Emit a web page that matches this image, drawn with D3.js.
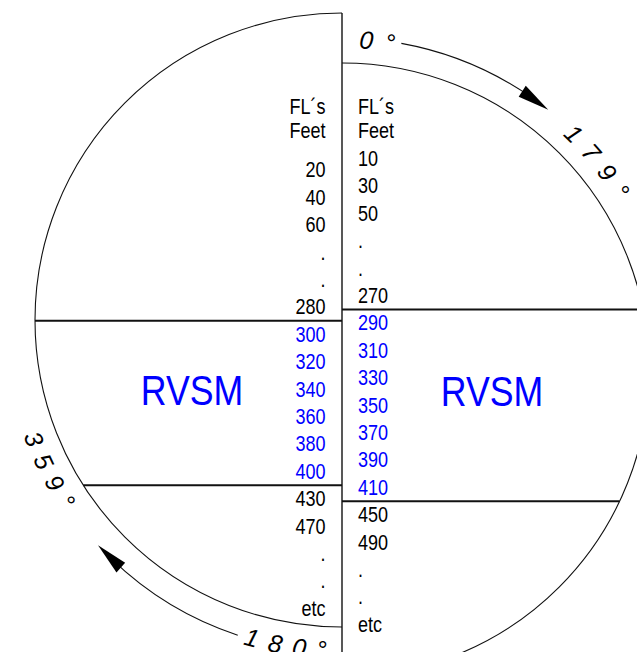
<!DOCTYPE html>
<html><head><meta charset="utf-8">
<script src="https://cdn.jsdelivr.net/npm/d3@7"></script>
<style>html,body{margin:0;padding:0;background:#fff;}svg{display:block;}</style>
</head><body>
<svg id="c" width="637" height="652"></svg>
<script>
// ---------- data ----------
const leftLevels  = ["20","40","60",".",".","280","300","320","340","360","380","400","430","470",".",".","etc"];
const rightLevels = ["10","30","50",".",".","270","290","310","330","350","370","390","410","450","490",".",".","etc"];
const headerLabels = ["FL´s","Feet"];
const rvsmLeft  = [300, 400];
const rvsmRight = [290, 410];
const bandLabel = "RVSM";
const degreeTexts  = ["0 °", "1 7 9 °", "3 5 9 °", "1 8 0 °"];
const degreeSides  = ["east", "east", "west", "west"];
const degreeStarts = [3, 43.2, 250, 197];          // heading (deg) where each label starts
const arrowSides = ["east", "west"];
const arrowFrom  = [10.3, 198.3];                  // heading (deg)
const arrowTo    = [38.4, 227.3];

// ---------- layout ----------
const W = 637, H = 652, cx = 342, R = 307;
const cy = {west: 320, east: 370};
const svg = d3.select("#c");
const BLUE = "#0000ff";
const FONT = "'Liberation Sans', Arial, Helvetica, sans-serif";
const SX = 0.82;   // horizontal condensing of the column text

const ang = d3.scaleLinear().domain([0, 360]).range([0, 2 * Math.PI]);
function polar(side, r, deg) {
  const a = ang(deg);
  return [cx + r * Math.sin(a), cy[side] - r * Math.cos(a)];
}
const yLeft  = d3.scaleLinear().domain([0, leftLevels.length - 1]).range([177.3, 615.7]);
const yRight = d3.scaleLinear().domain([0, rightLevels.length - 1]).range([166, 631.8]);
const yHeader = d3.scaleLinear().domain([0, 1]).range([114, 137.5]);

// semicircles
function semi(side) {
  const p = d3.path();
  const c = cy[side];
  p.moveTo(cx, c - R);
  p.arc(cx, c, R, -Math.PI / 2, Math.PI / 2, side === "west");
  return p.toString();
}
["west", "east"].forEach(s => {
  svg.append("path").attr("d", semi(s)).attr("fill", "none")
    .attr("stroke", "#111").attr("stroke-width", 1.1);
});

// centre vertical line
svg.append("line").attr("x1", cx).attr("x2", cx).attr("y1", cy.west - R).attr("y2", H)
  .attr("stroke", "#111").attr("stroke-width", 1.4);

// band boundaries
function isRvsm(lbl, rng) { const v = +lbl; return !isNaN(v) && v >= rng[0] && v <= rng[1]; }
function boundaries(levels, rng, yScale) {
  const lo = levels.findIndex(d => isRvsm(d, rng));
  let hi = -1; levels.forEach((d, i) => { if (isRvsm(d, rng)) hi = i; });
  return [yScale(lo - 1) + 6.5, yScale(hi) + 6.5];
}
function xOnCircle(side, y) {
  const dy = y - cy[side];
  const dx = Math.sqrt(Math.max(0, R * R - dy * dy));
  return side === "west" ? cx - dx : cx + dx;
}
const bL = boundaries(leftLevels, rvsmLeft, yLeft);
const bR = boundaries(rightLevels, rvsmRight, yRight);
bL.forEach(y => svg.append("line").attr("x1", xOnCircle("west", y)).attr("x2", cx)
  .attr("y1", y).attr("y2", y).attr("stroke", "#111").attr("stroke-width", 2));
bR.forEach(y => svg.append("line").attr("x1", cx).attr("x2", xOnCircle("east", y))
  .attr("y1", y).attr("y2", y).attr("stroke", "#111").attr("stroke-width", 2));

// text helper
function txt(x, y, s, anchor, size, color, sx) {
  svg.append("text").attr("transform", `translate(${x},${y}) scale(${sx},1)`)
    .attr("text-anchor", anchor).attr("font-family", FONT).attr("font-size", size)
    .attr("fill", color).text(s);
}
const xL = 325.5, xR = 358;
headerLabels.forEach((h, i) => {
  txt(xL, yHeader(i), h, "end", 22, "#000", SX);
  txt(xR, yHeader(i), h, "start", 22, "#000", SX);
});
leftLevels.forEach((d, i) => txt(xL, yLeft(i), d, "end", 22, isRvsm(d, rvsmLeft) ? BLUE : "#000", SX));
rightLevels.forEach((d, i) => txt(xR, yRight(i), d, "start", 22, isRvsm(d, rvsmRight) ? BLUE : "#000", SX));

// RVSM labels, centred in each band
txt(192, 405, bandLabel, "middle", 42, BLUE, 0.85);
txt(492, 406, bandLabel, "middle", 42, BLUE, 0.85);

// degree labels along arcs
const defs = svg.append("defs");
degreeTexts.forEach((t, i) => {
  const side = degreeSides[i], a0 = degreeStarts[i];
  const r = side === "east" ? 322 : 339;
  const a1 = side === "east" ? a0 + 90 : a0 - 90;
  const p0 = polar(side, r, a0), p1 = polar(side, r, a1);
  const id = "dp" + i;
  defs.append("path").attr("id", id)
    .attr("d", `M${p0[0]},${p0[1]} A${r},${r} 0 0 ${side === "east" ? 1 : 0} ${p1[0]},${p1[1]}`);
  svg.append("text").attr("font-family", FONT).attr("font-size", 25).attr("font-style", "italic")
    .attr("letter-spacing", 2).attr("fill", "#000")
    .append("textPath").attr("href", "#" + id).text(t);
});

// arrows
const AR = 332, HEAD = 32, HW = 6.5;
arrowSides.forEach((side, i) => {
  const a0 = arrowFrom[i], a1 = arrowTo[i];
  const headDeg = HEAD / AR * 180 / Math.PI;
  const pS = polar(side, AR, a0), pE = polar(side, AR, a1 - headDeg * 0.6);
  svg.append("path").attr("d", `M${pS[0]},${pS[1]} A${AR},${AR} 0 0 1 ${pE[0]},${pE[1]}`)
    .attr("fill", "none").attr("stroke", "#111").attr("stroke-width", 1.1);
  const tip = polar(side, AR, a1);
  const b1 = polar(side, AR - HW, a1 - headDeg);
  const b2 = polar(side, AR + HW, a1 - headDeg);
  svg.append("path").attr("d", `M${tip[0]},${tip[1]} L${b1[0]},${b1[1]} L${b2[0]},${b2[1]} Z`)
    .attr("fill", "#000");
});
</script>
</body></html>
